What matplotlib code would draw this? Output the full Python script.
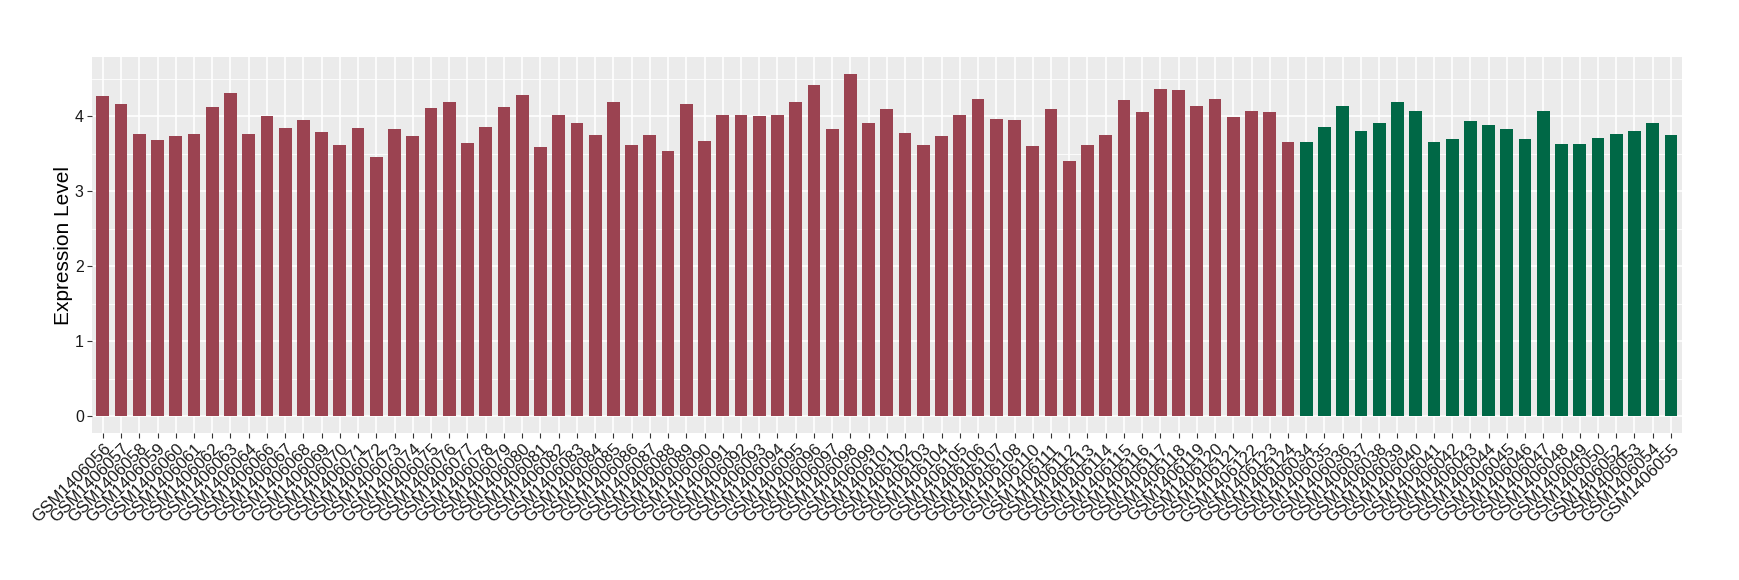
import numpy as np
import matplotlib
matplotlib.use("Agg")
from matplotlib import pyplot as plt

# tumour group (red) and normal group (green)
tumor_ids = ["GSM1406056", "GSM1406057", "GSM1406058", "GSM1406059", "GSM1406060",
             "GSM1406061", "GSM1406062", "GSM1406063", "GSM1406064", "GSM1406066",
             "GSM1406067", "GSM1406068", "GSM1406069", "GSM1406070", "GSM1406071",
             "GSM1406072", "GSM1406073", "GSM1406074", "GSM1406075", "GSM1406076",
             "GSM1406077", "GSM1406078", "GSM1406079", "GSM1406080", "GSM1406081",
             "GSM1406082", "GSM1406083", "GSM1406084", "GSM1406085", "GSM1406086",
             "GSM1406087", "GSM1406088", "GSM1406089", "GSM1406090", "GSM1406091",
             "GSM1406092", "GSM1406093", "GSM1406094", "GSM1406095", "GSM1406096",
             "GSM1406097", "GSM1406098", "GSM1406099", "GSM1406101", "GSM1406102",
             "GSM1406103", "GSM1406104", "GSM1406105", "GSM1406106", "GSM1406107",
             "GSM1406108", "GSM1406110", "GSM1406111", "GSM1406112", "GSM1406113",
             "GSM1406114", "GSM1406115", "GSM1406116", "GSM1406117", "GSM1406118",
             "GSM1406119", "GSM1406120", "GSM1406121", "GSM1406122", "GSM1406123",
             "GSM1406124"]
tumor_vals = [4.27, 4.165, 3.764, 3.684, 3.737, 3.764, 4.125, 4.311, 3.764, 4.004,
              3.844, 3.951, 3.791, 3.617, 3.844, 3.457, 3.831, 3.737, 4.111, 4.191,
              3.644, 3.858, 4.125, 4.285, 3.591, 4.018, 3.911, 3.751, 4.191, 3.617,
              3.751, 3.537, 4.165, 3.671, 4.018, 4.018, 4.004, 4.018, 4.191, 4.418,
              3.831, 4.565, 3.911, 4.098, 3.778, 3.617, 3.737, 4.018, 4.231, 3.964,
              3.951, 3.604, 4.098, 3.404, 3.617, 3.751, 4.218, 4.058, 4.365, 4.351,
              4.138, 4.231, 3.991, 4.071, 4.058, 3.657]

normal_ids = ["GSM1406034", "GSM1406035", "GSM1406036", "GSM1406037", "GSM1406038",
              "GSM1406039", "GSM1406040", "GSM1406041", "GSM1406042", "GSM1406043",
              "GSM1406044", "GSM1406045", "GSM1406046", "GSM1406047", "GSM1406048",
              "GSM1406049", "GSM1406050", "GSM1406052", "GSM1406053", "GSM1406054",
              "GSM1406055"]
normal_vals = [3.657, 3.858, 4.138, 3.804, 3.911, 4.191, 4.071, 3.657, 3.697, 3.938,
               3.884, 3.831, 3.697, 4.071, 3.631, 3.631, 3.711, 3.764, 3.804, 3.911,
               3.751]

tumor_col = "#9B4351"
normal_col = "#006846"

plt.rcParams['font.family'] = ['Liberation Sans', 'DejaVu Sans']

labels = tumor_ids + normal_ids
vals = np.array(tumor_vals + normal_vals)
cols = [tumor_col] * len(tumor_ids) + [normal_col] * len(normal_ids)
x = np.arange(len(labels))

fig = plt.figure(figsize=(17.4, 5.8), dpi=100)
ax = fig.add_axes([0.0528, 0.2529, 0.9138, 0.6493])
ax.set_facecolor("#EBEBEB")
ax.set_axisbelow(True)

ax.bar(x, vals, width=0.7, color=cols, zorder=2)

ax.set_xlim(-0.6, len(labels) - 0.4)
top = vals.max()
ax.set_ylim(-0.05 * top, 1.05 * top)

ax.set_yticks([0, 1, 2, 3, 4])
ax.set_yticks([0.5, 1.5, 2.5, 3.5, 4.5], minor=True)
ax.set_xticks(x)
ax.set_xticklabels(labels, rotation=45, ha="right", va="top",
                   rotation_mode="anchor", fontsize=12.2, color="#1a1a1a")
ax.tick_params(axis="y", labelsize=11.5, labelcolor="#1a1a1a")
ax.tick_params(axis="both", which="major", length=3.8, width=0.8,
               color="#333333", pad=2)
ax.tick_params(axis="y", which="minor", length=0)

ax.grid(which="major", color="white", linewidth=1.2)
ax.grid(which="minor", axis="y", color="white", linewidth=0.6)

for s in ax.spines.values():
    s.set_visible(False)

ax.set_ylabel("Expression Level", fontsize=15, color="black")
ax.yaxis.set_label_coords(-0.0116, 0.5)

fig.savefig("out.png", dpi=100)
